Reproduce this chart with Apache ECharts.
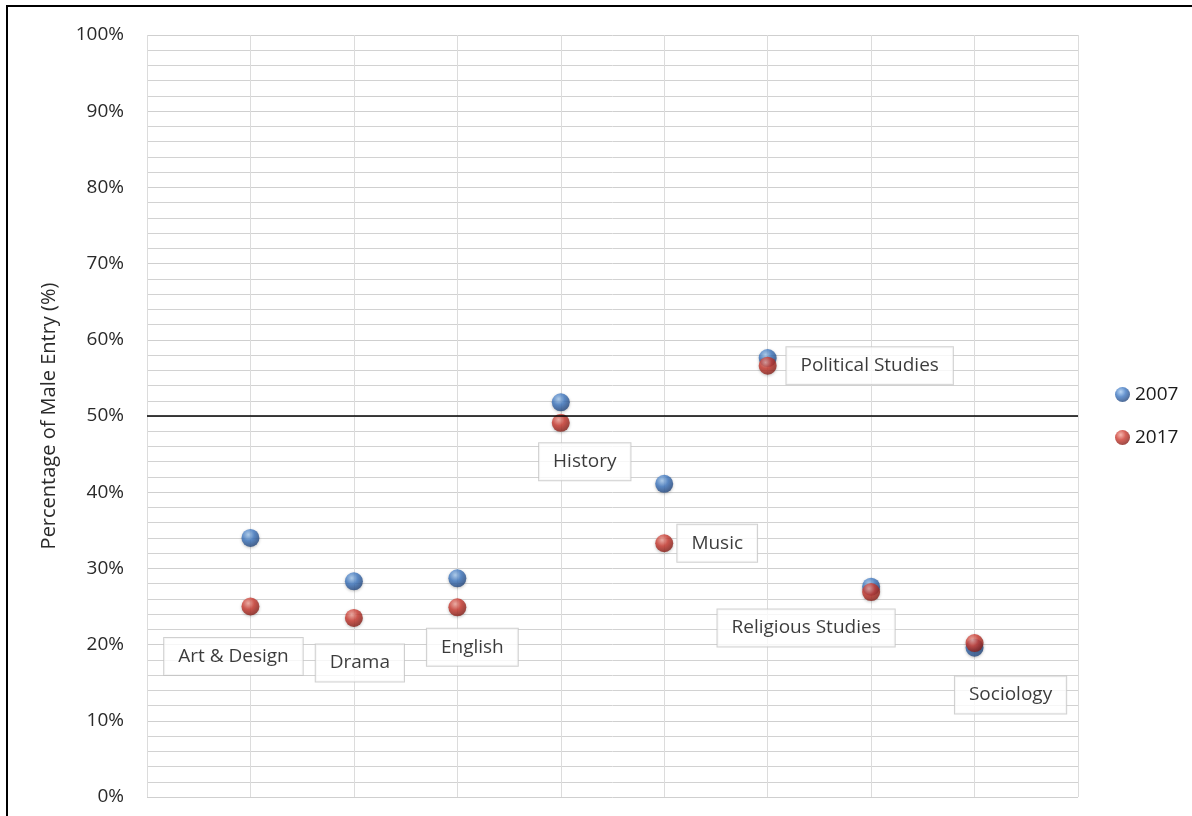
<!DOCTYPE html>
<html>
<head>
<meta charset="utf-8">
<script src="https://cdn.jsdelivr.net/npm/echarts@6/dist/echarts.min.js"></script>
<style>
html,body{margin:0;padding:0;background:#fff;}
#chart{width:1192px;height:816px;}
</style>
</head>
<body>
<div id="chart"></div>
<script>
var categories = ['Art & Design','Drama','English','History','Music','Political Studies','Religious Studies','Sociology'];
var values2007 = [34.0, 28.3, 28.7, 51.8, 41.1, 57.6, 27.6, 19.6];
var values2017 = [25.0, 23.5, 24.9, 49.1, 33.3, 56.6, 26.9, 20.2];
var yTicks = [0,10,20,30,40,50,60,70,80,90,100];
var referenceLine = 50;

// label placement (layout only)
var labelOffsets = [[-17,50],[6,45],[15,40],[24,39],[53,0],[102,0],[-65,36],[36,52]];

function sphere(base, light, dark){
  return {type:'radial', x:0.38, y:0.32, r:0.75, colorStops:[
    {offset:0,color:light},{offset:0.45,color:base},{offset:1,color:dark}]};
}
var blue = sphere('#3f78c2','#a9cdf2','#1f3f72');
var red = sphere('#cc3a30','#f4a69c','#7a1a14');

var FONT = '"Open Sans", "Liberation Sans", sans-serif';

var d2007 = values2007.map(function(v,i){return [i+1, v];});
var d2017 = values2017.map(function(v,i){
  return {value:[i+1, v], label:{show:true, formatter:categories[i], position:'inside', offset:labelOffsets[i],
    backgroundColor:'#fff', borderColor:'#c4c4c4', borderWidth:1, padding:[10,14,8,14],
    color:'#0a0a0a', fontSize:19, fontFamily:FONT}};
});

var chart = echarts.init(document.getElementById('chart'), null, {renderer:'canvas'});
chart.setOption({
  animation:false,
  backgroundColor:'#fff',
  graphic:[{type:'rect', shape:{x:7,y:6,width:1400,height:1000}, style:{fill:'none', stroke:'#000', lineWidth:2}, z:100}],
  grid:{left:147, right:114, top:35, bottom:19},
  legend:{orient:'vertical', left:1110, top:380, itemGap:24, itemWidth:15, itemHeight:15, icon:'circle',
    textStyle:{fontSize:19, color:'#1a1a1a', fontFamily:FONT},
    data:[{name:'2007', itemStyle:{color:blue}},{name:'2017', itemStyle:{color:red}}]},
  xAxis:{type:'value', min:0, max:categories.length+1, interval:1,
    axisLabel:{show:false}, axisLine:{show:false}, axisTick:{show:false},
    splitLine:{show:true, lineStyle:{color:'#dcdcdc', width:1}}},
  yAxis:{type:'value', min:yTicks[0], max:yTicks[yTicks.length-1], interval:10,
    name:'Percentage of Male Entry (%)', nameLocation:'middle', nameGap:88,
    nameTextStyle:{fontSize:20, color:'#2a2a2a', fontFamily:FONT},
    axisLabel:{formatter:'{value}%', fontSize:19, color:'#2a2a2a', margin:23, fontFamily:FONT},
    axisLine:{show:false}, axisTick:{show:false},
    splitLine:{show:true, lineStyle:{color:'#cfcfcf', width:1}},
    minorTick:{show:false, splitNumber:5},
    minorSplitLine:{show:true, lineStyle:{color:'#d2d2d2', width:1}}},
  series:[
    {name:'2007', type:'scatter', data:d2007, symbolSize:18, itemStyle:{color:blue, shadowBlur:3, shadowColor:'rgba(0,0,0,0.3)', shadowOffsetY:1},
      markLine:{silent:true, symbol:'none', label:{show:false}, lineStyle:{color:'#000', width:1.5, type:'solid'}, data:[{yAxis:referenceLine}]}, z:3},
    {name:'2017', type:'scatter', data:d2017, symbolSize:18, itemStyle:{color:red, shadowBlur:3, shadowColor:'rgba(0,0,0,0.3)', shadowOffsetY:1}, z:4}
  ]
});
</script>
</body>
</html>
